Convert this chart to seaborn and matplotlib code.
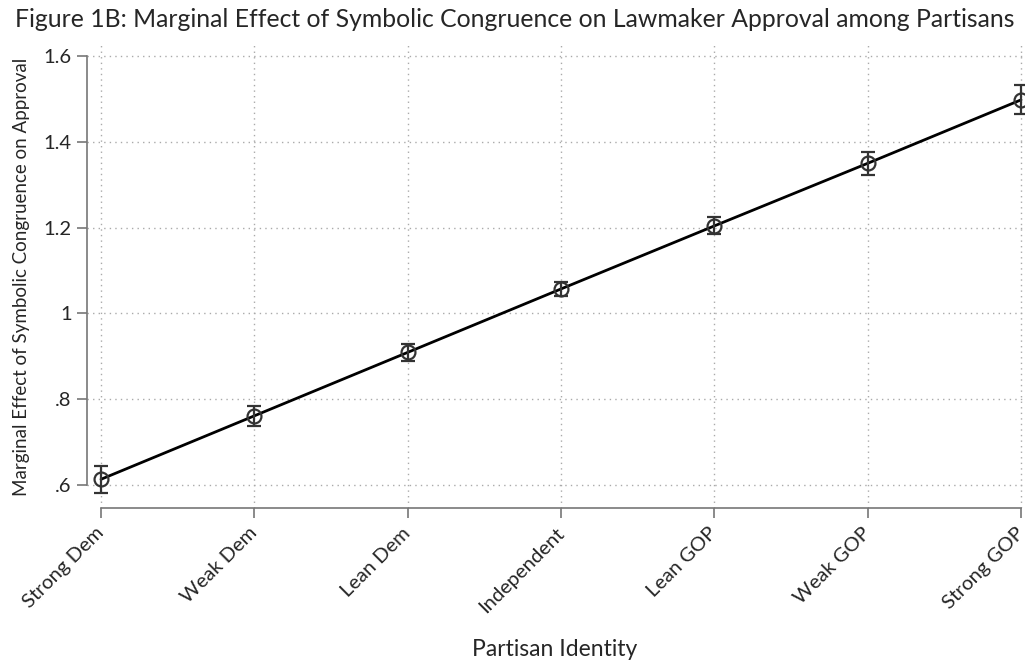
import numpy as np
import pandas as pd
import matplotlib
matplotlib.use('Agg')
import matplotlib.pyplot as plt
import seaborn as sns

# Values
categories = ['Strong Dem', 'Weak Dem', 'Lean Dem', 'Independent',
              'Lean GOP', 'Weak GOP', 'Strong GOP']
effect = [0.613, 0.761, 0.909, 1.057, 1.204, 1.350, 1.498]
ci_half = [0.031, 0.023, 0.019, 0.017, 0.020, 0.027, 0.034]
y_ticks = [0.6, 0.8, 1.0, 1.2, 1.4, 1.6]
y_ticklabels = ['.6', '.8', '1', '1.2', '1.4', '1.6']

df = pd.DataFrame({'pos': np.arange(len(categories)),
                   'effect': effect, 'ci': ci_half})

sns.set_style('white')
plt.rcParams['font.family'] = ['Lato', 'DejaVu Sans']

fig = plt.figure(figsize=(10.25, 6.62), dpi=100)
ax = fig.add_axes([87 / 1025, 1 - 508 / 662, 936 / 1025, (508 - 45) / 662])

# dotted grid
for p in df['pos']:
    ax.axvline(p, color='#aaaaaa', ls=(0, (1, 3)), lw=1, zorder=0)
for t in y_ticks:
    ax.axhline(t, color='#aaaaaa', ls=(0, (1, 3)), lw=1, zorder=0)

sns.lineplot(data=df, x='pos', y='effect', color='black', lw=2, ax=ax,
             zorder=2)
ax.errorbar(df['pos'], df['effect'], yerr=df['ci'], fmt='o', ms=10,
            mfc='none', mec='#333333', mew=1.6, ecolor='#333333',
            elinewidth=1.6, capsize=5, capthick=1.6, zorder=3,
            clip_on=False)

ax.set_xlim(-0.0914, 6.013)
ax.set_ylim(0.546, 1.626)

ax.set_yticks(y_ticks)
ax.set_yticklabels(y_ticklabels, fontsize=14.5)
ax.set_xticks(df['pos'])
ax.set_xticklabels(categories, fontsize=14.5, rotation=45, ha='right',
                   va='center', rotation_mode='anchor')

for s in ['top', 'right']:
    ax.spines[s].set_visible(False)
ax.spines['left'].set_bounds(0.6, 1.6)
ax.spines['bottom'].set_bounds(0, 6)
for s in ['left', 'bottom']:
    ax.spines[s].set_color('#777777')
    ax.spines[s].set_linewidth(1.2)
ax.tick_params(axis='both', which='major', length=7, width=1.2,
               color='#777777', left=True, bottom=True, pad=4)
ax.tick_params(axis='x', pad=9)

ax.set_xlabel('Partisan Identity', fontsize=16.5)
ax.xaxis.set_label_coords(0.5, -(650 - 508) / 463, transform=ax.transAxes)
ax.xaxis.label.set_va('center')
ax.set_ylabel('Marginal Effect of Symbolic Congruence on Approval',
              fontsize=13.5, labelpad=10)
fig.suptitle('Figure 1B: Marginal Effect of Symbolic Congruence on Lawmaker '
             'Approval among Partisans', fontsize=17.8, x=0.502, y=0.988)

fig.savefig('out.png', dpi=100)
